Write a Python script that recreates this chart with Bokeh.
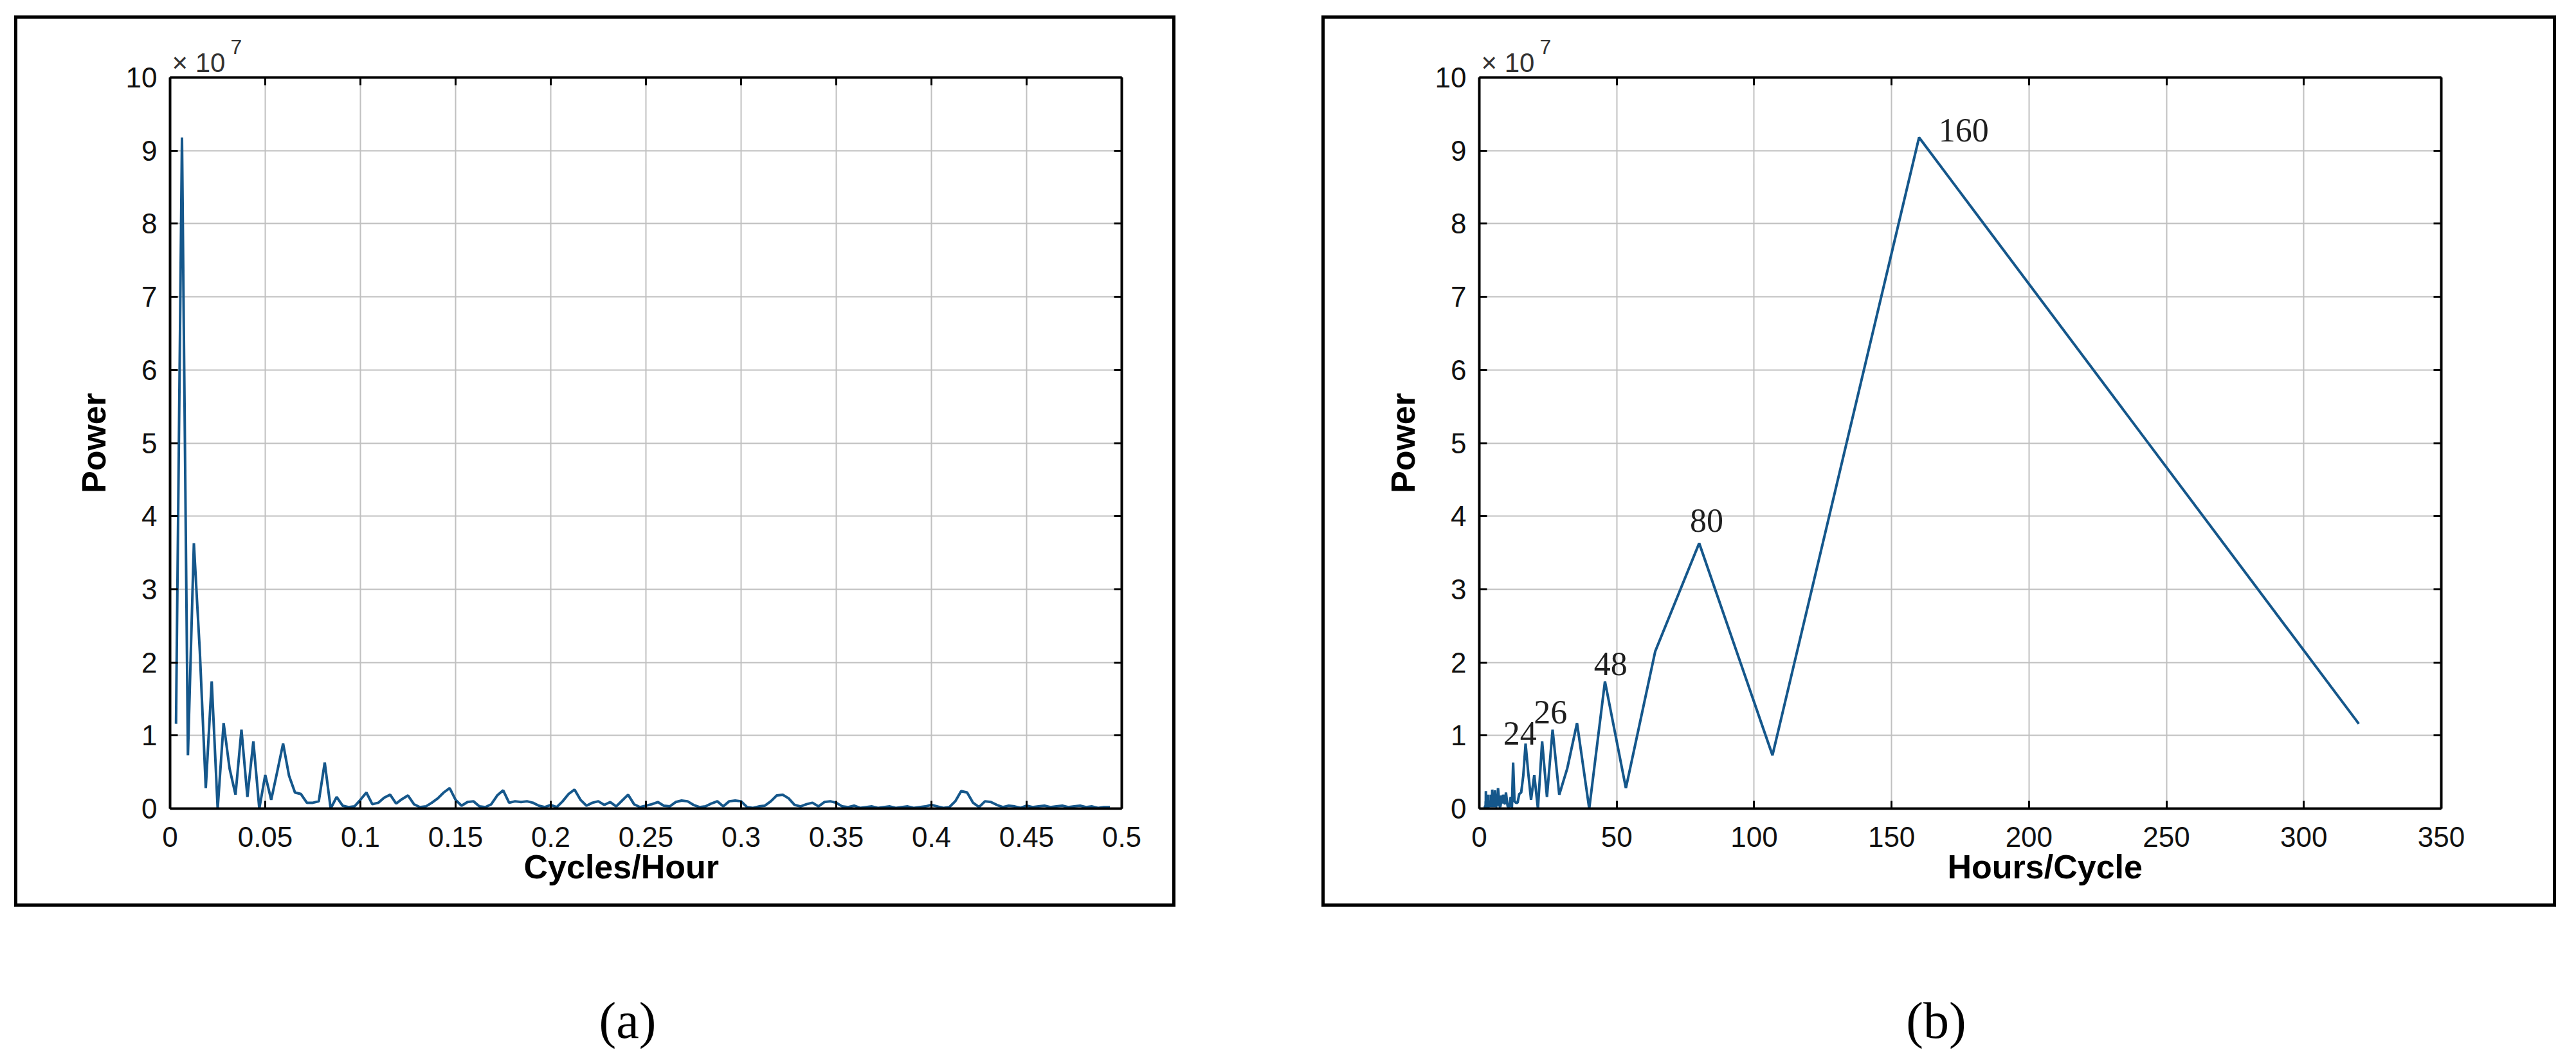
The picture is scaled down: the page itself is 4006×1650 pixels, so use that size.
from bokeh.plotting import figure
from bokeh.models import ColumnDataSource, FixedTicker, LinearAxis, Range1d, Div, Spacer, Title
from bokeh.layouts import column, row
from bokeh.embed import file_html
from bokeh.resources import INLINE
from bokeh.core.properties import value

# ---------------- data ----------------
N_HOURS = 320  # record length in hours (harmonic spacing 1/320 cycles/hour)

# power of harmonics k = 1..158, in units of 1e7
power_1e7 = [
    1.16, 9.18, 0.73, 3.63, 2.15, 0.28, 1.74, 0.00, 1.17, 0.55,
    0.19, 1.08, 0.16, 0.92, 0.00, 0.46, 0.12, 0.50, 0.89, 0.45,
    0.22, 0.20, 0.08, 0.08, 0.10, 0.63, 0.00, 0.16, 0.04, 0.02,
    0.03, 0.12, 0.22, 0.06, 0.08, 0.15, 0.19, 0.07, 0.13, 0.18,
    0.06, 0.02, 0.03, 0.08, 0.14, 0.22, 0.28, 0.12, 0.04, 0.09,
    0.10, 0.03, 0.02, 0.06, 0.18, 0.25, 0.08, 0.10, 0.09, 0.10,
    0.08, 0.04, 0.02, 0.05, 0.02, 0.10, 0.20, 0.26, 0.12, 0.04,
    0.08, 0.10, 0.05, 0.09, 0.03, 0.11, 0.19, 0.06, 0.02, 0.04,
    0.06, 0.09, 0.04, 0.03, 0.09, 0.11, 0.10, 0.05, 0.02, 0.03,
    0.07, 0.10, 0.03, 0.10, 0.11, 0.10, 0.02, 0.01, 0.03, 0.04,
    0.10, 0.18, 0.19, 0.14, 0.05, 0.03, 0.06, 0.08, 0.03, 0.09,
    0.10, 0.08, 0.03, 0.02, 0.04, 0.01, 0.02, 0.03, 0.01, 0.02,
    0.03, 0.01, 0.02, 0.03, 0.01, 0.02, 0.03, 0.05, 0.03, 0.01,
    0.02, 0.10, 0.24, 0.22, 0.08, 0.02, 0.10, 0.09, 0.05, 0.02,
    0.04, 0.03, 0.01, 0.04, 0.02, 0.03, 0.04, 0.02, 0.03, 0.04,
    0.02, 0.03, 0.04, 0.02, 0.03, 0.01, 0.02, 0.02,
]
harmonics = list(range(1, len(power_1e7) + 1))
cycles_per_hour = [k / N_HOURS for k in harmonics]
hours_per_cycle = [N_HOURS / k for k in harmonics]

y_ticks = [0, 1, 2, 3, 4, 5, 6, 7, 8, 9, 10]
x_ticks_a = [0, 0.05, 0.1, 0.15, 0.2, 0.25, 0.3, 0.35, 0.4, 0.45, 0.5]
x_tick_labels_a = ["0", "0.05", "0.1", "0.15", "0.2", "0.25", "0.3", "0.35", "0.4", "0.45", "0.5"]
x_ticks_b = [0, 50, 100, 150, 200, 250, 300, 350]

peak_labels = ["160", "80", "48", "26", "24"]
peak_label_x = [176.2, 82.7, 47.8, 25.9, 14.8]
peak_label_y = [9.19, 3.85, 1.89, 1.23, 0.94]

# ---------------- style ----------------
LINE = "#15578b"
GRID = "#c0c0c0"
SANS = "Liberation Sans"
SERIF = "Liberation Serif"


def style_axis(ax, ticks, show_labels=True):
    ax.ticker = FixedTicker(ticks=ticks)
    ax.axis_line_color = "black"
    ax.axis_line_width = 4
    ax.major_tick_in = 12
    ax.major_tick_out = 0
    ax.major_tick_line_color = "black"
    ax.major_tick_line_width = 3
    ax.minor_tick_line_color = None
    ax.major_label_text_font = SANS
    ax.major_label_text_font_size = "44px"
    ax.major_label_text_color = "#111111"
    ax.axis_label_text_font = SANS
    ax.axis_label_text_font_size = "52px"
    ax.axis_label_text_font_style = "bold"
    ax.axis_label_text_color = "black"
    if not show_labels:
        ax.major_label_overrides = {t: "" for t in ticks}
        ax.major_label_text_font_size = "4px"
        ax.major_label_standoff = 0


def make_panel(w, h, x_end, x_ticks, borders, xs, xlabel, xlabel_left):
    p = figure(width=w, height=h, x_range=Range1d(0, x_end), y_range=Range1d(0, 10),
               output_backend="svg", toolbar_location=None,
               min_border_left=borders[0], min_border_right=borders[1],
               min_border_top=borders[2], min_border_bottom=borders[3],
               styles={"border": "5px solid black", "box-sizing": "content-box"})
    p.outline_line_color = None
    p.background_fill_color = "white"
    p.border_fill_color = "white"
    bottom = p.xaxis[0]
    left = p.yaxis[0]
    style_axis(bottom, x_ticks)
    style_axis(left, y_ticks)
    bottom.major_label_standoff = 28
    left.major_label_standoff = 20
    left.axis_label = "Power"
    left.axis_label_standoff = 18
    top = LinearAxis()
    right = LinearAxis()
    style_axis(top, x_ticks, False)
    style_axis(right, y_ticks, False)
    p.add_layout(top, "above")
    p.add_layout(right, "right")
    p.xgrid.ticker = FixedTicker(ticks=x_ticks)
    p.ygrid.ticker = FixedTicker(ticks=y_ticks)
    for g in (p.xgrid, p.ygrid):
        g.grid_line_color = GRID
        g.grid_line_width = 2
    src = ColumnDataSource(dict(x=xs, y=power_1e7))
    p.line("x", "y", source=src, line_color=LINE, line_width=4)
    # exponent marker above the y axis: "× 10" with a raised "7"
    p.add_layout(Title(text="× 10", align="left", offset=3, text_font=SANS,
                       text_font_size="42px", text_font_style="normal",
                       text_color="#333333", standoff=0), "above")
    p.add_layout(Title(text="7", align="left", offset=94, text_font=SANS,
                       text_font_size="32px", text_font_style="normal",
                       text_color="#333333", standoff=-24), "above")
    # x axis label
    p.add_layout(Title(text=xlabel, align="left", offset=xlabel_left, text_font=SANS,
                       text_font_size="52px", text_font_style="bold",
                       text_color="black", standoff=-6), "below")
    return p, bottom


# panel (a)
pa, pa_bottom = make_panel(1796, 1376, 0.5, x_ticks_a, (237, 89, 91, 158), cycles_per_hour,
                           "Cycles/Hour", 550)
pa_bottom.major_label_overrides = dict(zip(x_ticks_a, x_tick_labels_a))

# panel (b)
pb, pb_bottom = make_panel(1910, 1376, 350, x_ticks_b, (240, 184, 91, 154), hours_per_cycle,
                           "Hours/Cycle", 728)
lab_src = ColumnDataSource(dict(x=peak_label_x, y=peak_label_y, t=peak_labels))
pb.text("x", "y", text="t", source=lab_src, text_font=value(SERIF), text_font_size="52px",
        text_color="#1e1e1e", text_align="center", text_baseline="alphabetic", y_offset=-10)

cap_style = {"font-family": SERIF, "font-size": "80px", "line-height": "1", "text-align": "center",
             "color": "black"}
cap_a = Div(text="(a)", width=300, height=84, styles=cap_style)
cap_b = Div(text="(b)", width=300, height=84, styles=cap_style)

layout = column(
    Spacer(height=24),
    row(Spacer(width=22), pa, Spacer(width=227), pb),
    Spacer(height=132),
    row(Spacer(width=821), cap_a, Spacer(width=1725), cap_b),
)

open("out.html", "w").write(file_html(layout, INLINE))
